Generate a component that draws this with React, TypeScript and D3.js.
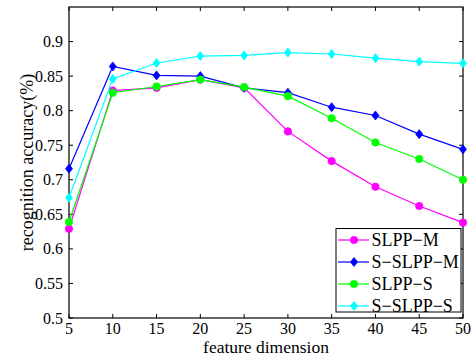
import React from "react";
import * as d3 from "d3";

const dims = [5, 10, 15, 20, 25, 30, 35, 40, 45, 50];
const slppM = [0.629, 0.829, 0.833, 0.845, 0.833, 0.770, 0.727, 0.690, 0.662, 0.638];
const sSlppM = [0.716, 0.864, 0.851, 0.850, 0.833, 0.826, 0.805, 0.793, 0.766, 0.744];
const slppS = [0.639, 0.826, 0.835, 0.845, 0.834, 0.821, 0.789, 0.754, 0.730, 0.700];
const sSlppS = [0.674, 0.846, 0.869, 0.879, 0.880, 0.884, 0.882, 0.876, 0.871, 0.8685];
const yTicks = [0.5, 0.55, 0.6, 0.65, 0.7, 0.75, 0.8, 0.85, 0.9];
const xTicks = [5, 10, 15, 20, 25, 30, 35, 40, 45, 50];

const series = [
  { name: "SLPP\u2212M", values: slppM, color: "#ff00ff", marker: "circle" },
  { name: "S\u2212SLPP\u2212M", values: sSlppM, color: "#0000ff", marker: "diamond" },
  { name: "SLPP\u2212S", values: slppS, color: "#00ff00", marker: "circle" },
  { name: "S\u2212SLPP\u2212S", values: sSlppS, color: "#00ffff", marker: "diamond" },
];

const W = 475;
const H = 357;
const left = 69;
const right = 463;
const top = 7;
const bottom = 318;
const font = "'Liberation Serif', 'Times New Roman', serif";

function Marker({ type, x, y, color }: { type: string; x: number; y: number; color: string }) {
  if (type === "circle") {
    return <circle cx={x} cy={y} r={3.8} fill={color} stroke={color} strokeWidth={0.5} />;
  }
  const s = 4.5;
  const w = 3.5;
  return (
    <path
      d={`M${x},${y - s}L${x + w},${y}L${x},${y + s}L${x - w},${y}Z`}
      fill={color}
      stroke={color}
      strokeWidth={0.8}
    />
  );
}

export default function App() {
  const x = d3.scaleLinear().domain([5, 50]).range([left, right]);
  const y = d3.scaleLinear().domain([0.5, 0.95]).range([bottom, top]);
  const tick = 4;

  const legendX = 336;
  const legendY = 228.5;
  const legendW = 125;
  const legendH = 83.5;
  const rowH = 22;

  return (
    <svg
      width={W}
      height={H}
      style={{ position: "absolute", left: 0, top: 0 }}
      fontFamily={font}
    >
      <rect x={0} y={0} width={W} height={H} fill="#fff" />
      {/* ticks on all four sides */}
      {xTicks.map((t) => (
        <g key={"xt" + t}>
          <line x1={x(t)} x2={x(t)} y1={bottom} y2={bottom - tick} stroke="#000" strokeWidth={1} />
          <line x1={x(t)} x2={x(t)} y1={top} y2={top + tick} stroke="#000" strokeWidth={1} />
          <text x={x(t)} y={334} textAnchor="middle" fontSize={16}>
            {t}
          </text>
        </g>
      ))}
      {yTicks.map((t) => (
        <g key={"yt" + t}>
          <line x1={left} x2={left + tick} y1={y(t)} y2={y(t)} stroke="#000" strokeWidth={1} />
          <line x1={right} x2={right - tick} y1={y(t)} y2={y(t)} stroke="#000" strokeWidth={1} />
          <text x={63} y={y(t) + 5.5} textAnchor="end" fontSize={16}>
            {String(t)}
          </text>
        </g>
      ))}
      <rect
        x={left}
        y={top}
        width={right - left}
        height={bottom - top}
        fill="none"
        stroke="#000"
        strokeWidth={1.2}
      />
      {series.map((s) => {
        const line = d3
          .line<number>()
          .x((_, i) => x(dims[i]))
          .y((v) => y(v));
        return (
          <g key={s.name}>
            <path d={line(s.values) || ""} fill="none" stroke={s.color} strokeWidth={1.2} />
            {s.values.map((v, i) => (
              <Marker key={i} type={s.marker} x={x(dims[i])} y={y(v)} color={s.color} />
            ))}
          </g>
        );
      })}
      {/* legend */}
      <rect x={legendX} y={legendY} width={legendW} height={legendH} fill="#fff" stroke="#000" strokeWidth={1} />
      {series.map((s, i) => {
        const cy = legendY + 11.5 + i * rowH;
        return (
          <g key={"lg" + s.name}>
            <line x1={legendX + 2} x2={legendX + 33} y1={cy} y2={cy} stroke={s.color} strokeWidth={1.2} />
            <Marker type={s.marker} x={legendX + 18} y={cy} color={s.color} />
            <text x={legendX + 35.5} y={cy + 6} fontSize={18}>
              {s.name}
            </text>
          </g>
        );
      })}
      <text x={266} y={353} textAnchor="middle" fontSize={17.5}>
        feature dimension
      </text>
      <text
        transform={`translate(33, ${(top + bottom) / 2}) rotate(-90)`}
        textAnchor="middle"
        fontSize={18}
      >
        recognition accuracy(%)
      </text>
    </svg>
  );
}
